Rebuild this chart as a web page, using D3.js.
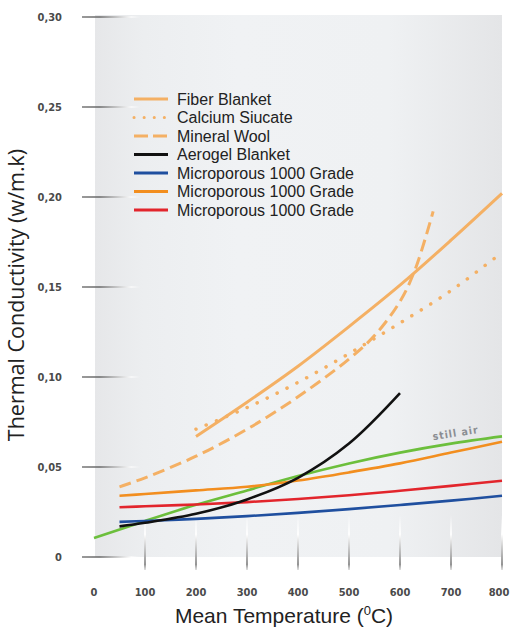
<!DOCTYPE html>
<html>
<head>
<meta charset="utf-8">
<script src="https://cdn.jsdelivr.net/npm/d3@7"></script>
<style>
  body { margin: 0; background: #fff; }
  svg { display: block; }
</style>
</head>
<body>
<script>
// thermal conductivity vs mean temperature

// data
let seriesNames = ['Fiber Blanket', 'Calcium Siucate', 'Mineral Wool', 'Aerogel Blanket',
  'Microporous 1000 Grade', 'Microporous 1000 Grade', 'Microporous 1000 Grade']

let fiberT = [200, 300, 400, 500, 600, 700, 800]
let fiberK = [0.067, 0.086, 0.106, 0.128, 0.151, 0.176, 0.202]

let calciumT = [200, 300, 400, 500, 600, 700, 790]
let calciumK = [0.071, 0.083, 0.097, 0.113, 0.130, 0.148, 0.167]

let mineralT = [50, 100, 200, 300, 400, 500, 550, 600, 630, 665]
let mineralK = [0.039, 0.044, 0.056, 0.071, 0.089, 0.110, 0.123, 0.142, 0.160, 0.192]

let aerogelT = [50, 100, 200, 300, 400, 500, 600]
let aerogelK = [0.017, 0.019, 0.024, 0.032, 0.044, 0.063, 0.091]

let microT = [50, 100, 200, 300, 400, 500, 600, 700, 800]
let microBlueK = [0.0195, 0.020, 0.0212, 0.0227, 0.0245, 0.0266, 0.0289, 0.0313, 0.034]
let microOrangeK = [0.034, 0.035, 0.037, 0.039, 0.0425, 0.047, 0.052, 0.058, 0.064]
let microRedK = [0.0276, 0.0282, 0.0292, 0.0305, 0.0322, 0.0343, 0.0368, 0.0395, 0.0424]

// still air (no legend entry)
let airT = [0, 100, 200, 300, 400, 500, 600, 700, 800]
let airK = [0.0105, 0.020, 0.029, 0.037, 0.045, 0.052, 0.058, 0.063, 0.067]

let xTicks = [0, 100, 200, 300, 400, 500, 600, 700, 800]
let yTicks = [0, 0.05, 0.10, 0.15, 0.20, 0.25, 0.30]

let W = 511
let H = 630

let svg = d3.select('body').append('svg')
  .attr('width', W)
  .attr('height', H)

let x = d3.scaleLinear().domain([0, 800]).range([94, 502])
let y = d3.scaleLinear().domain([0, 0.30]).range([557, 17])

let defs = svg.append('defs')

// plot background, lighter in the middle
let bg = defs.append('linearGradient').attr('id', 'bgGrad')
  .attr('x1', 0).attr('x2', 1).attr('y1', 0).attr('y2', 0)
bg.append('stop').attr('offset', '0%').attr('stop-color', '#e6e7e9')
bg.append('stop').attr('offset', '12%').attr('stop-color', '#eceef0')
bg.append('stop').attr('offset', '35%').attr('stop-color', '#f0f2f4')
bg.append('stop').attr('offset', '72%').attr('stop-color', '#eff1f3')
bg.append('stop').attr('offset', '100%').attr('stop-color', '#e4e5e7')

let yTickGrad = defs.append('linearGradient').attr('id', 'yTickGrad')
  .attr('gradientUnits', 'userSpaceOnUse')
  .attr('x1', 82).attr('x2', 140).attr('y1', 0).attr('y2', 0)
yTickGrad.append('stop').attr('offset', '0%').attr('stop-color', '#777')
yTickGrad.append('stop').attr('offset', '30%').attr('stop-color', '#666')
yTickGrad.append('stop').attr('offset', '60%').attr('stop-color', '#bbb')
yTickGrad.append('stop').attr('offset', '85%').attr('stop-color', '#fff').attr('stop-opacity', 0.8)
yTickGrad.append('stop').attr('offset', '100%').attr('stop-color', '#fff').attr('stop-opacity', 0)

let xTickGrad = defs.append('linearGradient').attr('id', 'xTickGrad')
  .attr('gradientUnits', 'userSpaceOnUse')
  .attr('x1', 0).attr('x2', 0).attr('y1', 515).attr('y2', 570)
xTickGrad.append('stop').attr('offset', '0%').attr('stop-color', '#fff').attr('stop-opacity', 0)
xTickGrad.append('stop').attr('offset', '35%').attr('stop-color', '#fff')
xTickGrad.append('stop').attr('offset', '65%').attr('stop-color', '#bbb')
xTickGrad.append('stop').attr('offset', '90%').attr('stop-color', '#888')
xTickGrad.append('stop').attr('offset', '100%').attr('stop-color', '#aaa').attr('stop-opacity', 0.4)

svg.append('rect')
  .attr('x', x(0) + 1)
  .attr('y', 15)
  .attr('width', x(800) - x(0) - 1)
  .attr('height', y(0) - 15)
  .attr('fill', 'url(#bgGrad)')

let tickFont = '"DejaVu Sans Condensed", "Liberation Sans Narrow", sans-serif'

// y ticks
svg.append('g').selectAll('line')
  .data(yTicks)
  .enter().append('line')
  .attr('x1', 82).attr('x2', 140)
  .attr('y1', d => y(d)).attr('y2', d => y(d))
  .attr('stroke', 'url(#yTickGrad)')
  .attr('stroke-width', 1.6)

svg.append('g').selectAll('text')
  .data(yTicks)
  .enter().append('text')
  .attr('x', 62)
  .attr('y', d => y(d))
  .attr('dy', '0.35em')
  .attr('text-anchor', 'end')
  .style('font-family', tickFont)
  .style('font-weight', 'bold')
  .style('font-size', '11px')
  .style('fill', '#4a4a4a')
  .text(d => d === 0 ? '0' : d3.format('.2f')(d).replace('.', ','))

// x ticks
svg.append('g').selectAll('line')
  .data(xTicks.filter(d => d > 0))
  .enter().append('line')
  .attr('x1', d => x(d)).attr('x2', d => x(d))
  .attr('y1', 515).attr('y2', 570)
  .attr('stroke', 'url(#xTickGrad)')
  .attr('stroke-width', 1.8)

svg.append('g').selectAll('text')
  .data(xTicks)
  .enter().append('text')
  .attr('x', d => d === 800 ? x(d) - 3 : x(d))
  .attr('y', 592)
  .attr('dy', '0.35em')
  .attr('text-anchor', 'middle')
  .style('font-family', tickFont)
  .style('font-weight', 'bold')
  .style('font-size', '11px')
  .style('fill', '#4a4a4a')
  .text(d => d)

// axis titles
let xTitle = svg.append('text')
  .attr('x', 284)
  .attr('y', 623)
  .attr('text-anchor', 'middle')
  .style('font-family', '"Liberation Sans", Arial, sans-serif')
  .style('font-size', '21px')
  .style('fill', '#222')
xTitle.append('tspan').text('Mean Temperature (')
xTitle.append('tspan').attr('dy', -8).style('font-size', '13px').text('0')
xTitle.append('tspan').attr('dy', 8).text('C)')

svg.append('text')
  .attr('transform', 'translate(24,' + 295 + ') rotate(-90)')
  .attr('text-anchor', 'middle')
  .style('font-family', '"Open Sans", "Noto Sans", sans-serif')
  .style('font-size', '21.5px')
  .style('fill', '#222')
  .text('Thermal Conductivity (w/m.k)')

// series
let lightOrange = '#f4b064'
let series = [
  { name: seriesNames[0], t: fiberT, k: fiberK, color: lightOrange, dash: null, width: 3 },
  { name: seriesNames[1], t: calciumT, k: calciumK, color: lightOrange, dash: '0.1,11', width: 3.5 },
  { name: seriesNames[2], t: mineralT, k: mineralK, color: lightOrange, dash: '12,6', width: 3 },
  { name: seriesNames[3], t: aerogelT, k: aerogelK, color: '#111', dash: null, width: 2.6 },
  { name: seriesNames[4], t: microT, k: microBlueK, color: '#1f4f9f', dash: null, width: 2.6 },
  { name: seriesNames[5], t: microT, k: microOrangeK, color: '#f28e1f', dash: null, width: 2.6 },
  { name: seriesNames[6], t: microT, k: microRedK, color: '#e2252c', dash: null, width: 2.6 }
]
let air = { t: airT, k: airK, color: '#6cbf3c', width: 2.6 }

let line = d3.line()
  .x(d => x(d[0]))
  .y(d => y(d[1]))
  .curve(d3.curveCatmullRom.alpha(0.5))

let gLines = svg.append('g')
let drawOrder = [air].concat(series.slice(4)).concat([series[3], series[2], series[1], series[0]])
gLines.selectAll('path')
  .data(drawOrder)
  .enter().append('path')
  .attr('d', s => line(d3.zip(s.t, s.k)))
  .attr('fill', 'none')
  .attr('stroke', s => s.color)
  .attr('stroke-width', s => s.width)
  .attr('stroke-dasharray', s => s.dash)
  .attr('stroke-linecap', s => s.dash && s.dash.startsWith('0.1') ? 'round' : 'butt')

// "still air" tag on the green line
let tagT = 710
let tagK = 0.0635
let angle = Math.atan2(y(0.067) - y(0.058), x(800) - x(600)) * 180 / Math.PI
svg.append('text')
  .attr('transform', 'translate(' + x(tagT) + ',' + (y(tagK) - 6) + ') rotate(' + angle + ')')
  .attr('text-anchor', 'middle')
  .style('font-family', tickFont)
  .style('font-weight', 'bold')
  .style('font-size', '10.5px')
  .style('letter-spacing', '1px')
  .style('fill', '#8a8d92')
  .text('still air')

// legend
let legend = svg.append('g')
let rows = legend.selectAll('g')
  .data(series)
  .enter().append('g')
  .attr('transform', (d, i) => 'translate(0,' + (99 + i * 18.5) + ')')
rows.append('line')
  .attr('x1', 134).attr('x2', 168)
  .attr('y1', 0).attr('y2', 0)
  .attr('stroke', d => d.color)
  .attr('stroke-width', 3)
  .attr('stroke-dasharray', d => d.dash === '12,6' ? '14,5' : d.dash === null ? null : '0.1,10')
  .attr('stroke-linecap', d => d.dash && d.dash.startsWith('0.1') ? 'round' : 'butt')
rows.append('text')
  .attr('x', 177)
  .attr('y', 0)
  .attr('dy', '0.36em')
  .style('font-family', '"Liberation Sans", Arial, sans-serif')
  .style('font-size', '16px')
  .style('fill', '#222')
  .text(d => d.name)
</script>
</body>
</html>
